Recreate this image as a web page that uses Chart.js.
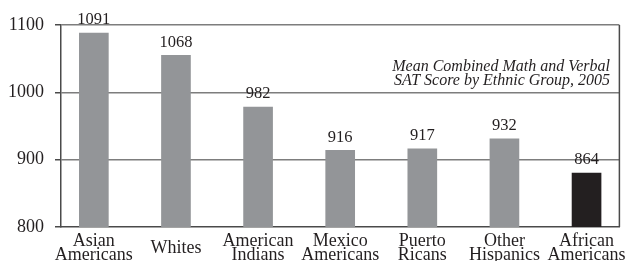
<!DOCTYPE html>
<html>
<head>
<meta charset="utf-8">
<script src="https://cdn.jsdelivr.net/npm/chart.js@4"></script>
<style>
  html, body { margin: 0; padding: 0; background: #fff; }
  #wrap { width: 640px; height: 261px; }
</style>
</head>
<body>
<div id="wrap"><canvas id="satChart" width="640" height="261"></canvas></div>
<script>
const categories = [
  ['Asian', 'Americans'],
  ['Whites'],
  ['American', 'Indians'],
  ['Mexico', 'Americans'],
  ['Puerto', 'Ricans'],
  ['Other', 'Hispanics'],
  ['African', 'Americans']
];
// printed scores above the bars
const scoreLabels = [1091, 1068, 982, 916, 917, 932, 864];
// bar heights as drawn in the figure
const barHeights = [1088, 1055, 978, 914, 916, 931, 880];
const yTicks = [800, 900, 1000, 1100];
const titleLines = ['Mean Combined Math and Verbal', 'SAT Score by Ethnic Group, 2005'];

const serif = '"Liberation Serif", "Times New Roman", serif';
const barColors = barHeights.map((v, i) => i === barHeights.length - 1 ? '#231f20' : '#939598');

const extras = {
  id: 'extras',
  afterDatasetsDraw(chart) {
    const { ctx, chartArea } = chart;
    const bars = chart.getDatasetMeta(0).data;
    ctx.save();
    // right frame line
    ctx.strokeStyle = '#4a4a4a';
    ctx.lineWidth = 1.5;
    ctx.beginPath();
    ctx.moveTo(chartArea.right, chartArea.top);
    ctx.lineTo(chartArea.right, chartArea.bottom);
    ctx.stroke();

    // value labels
    ctx.fillStyle = '#231f20';
    ctx.font = '16.5px ' + serif;
    ctx.textAlign = 'center';
    ctx.textBaseline = 'middle';
    bars.forEach((b, i) => {
      ctx.fillText(String(scoreLabels[i]), b.x, b.y - 13);
    });

    // title
    ctx.font = 'italic 16px ' + serif;
    ctx.textAlign = 'right';
    ctx.textBaseline = 'alphabetic';
    ctx.fillText(titleLines[0], 610, 71);
    ctx.fillText(titleLines[1], 610, 85);
    ctx.restore();
  }
};

new Chart(document.getElementById('satChart'), {
  type: 'bar',
  data: {
    datasets: [{
      data: barHeights.map((y, i) => ({ x: i, y })),
      backgroundColor: barColors,
      borderWidth: 0,
      barThickness: 29
    }]
  },
  options: {
    responsive: false,
    animation: false,
    layout: { padding: { top: 25, right: 8, left: 0, bottom: 0 } },
    plugins: { legend: { display: false }, tooltip: { enabled: false } },
    scales: {
      x: {
        type: 'linear',
        min: -0.4,
        max: 6.4,
        offset: false,
        afterBuildTicks: s => { s.ticks = categories.map((c, i) => ({ value: i })); },
        afterFit: s => { s.height = 34; },
        grid: { display: false, drawTicks: false, offset: false },
        border: { display: true, color: '#4a4a4a', width: 1.5 },
        ticks: {
          autoSkip: false,
          maxRotation: 0,
          crossAlign: 'center',
          padding: 14,
          color: '#231f20',
          font: { family: serif, size: 18, lineHeight: 0.78 },
          callback: v => categories[v]
        }
      },
      y: {
        min: 800,
        max: 1100,
        afterBuildTicks: s => { s.ticks = yTicks.map(v => ({ value: v })); },
        afterFit: s => { s.width = 61; },
        grid: {
          color: ctx => ctx.tick && ctx.tick.value === 800 ? 'rgba(0,0,0,0)' : '#7d7d7d',
          lineWidth: 1.5,
          tickLength: 6,
          tickColor: '#4a4a4a'
        },
        border: { display: true, color: '#4a4a4a', width: 1.5 },
        ticks: {
          padding: 11,
          color: '#231f20',
          font: { family: serif, size: 18 },
          callback: v => String(v)
        }
      }
    }
  },
  plugins: [extras]
});
</script>
</body>
</html>
